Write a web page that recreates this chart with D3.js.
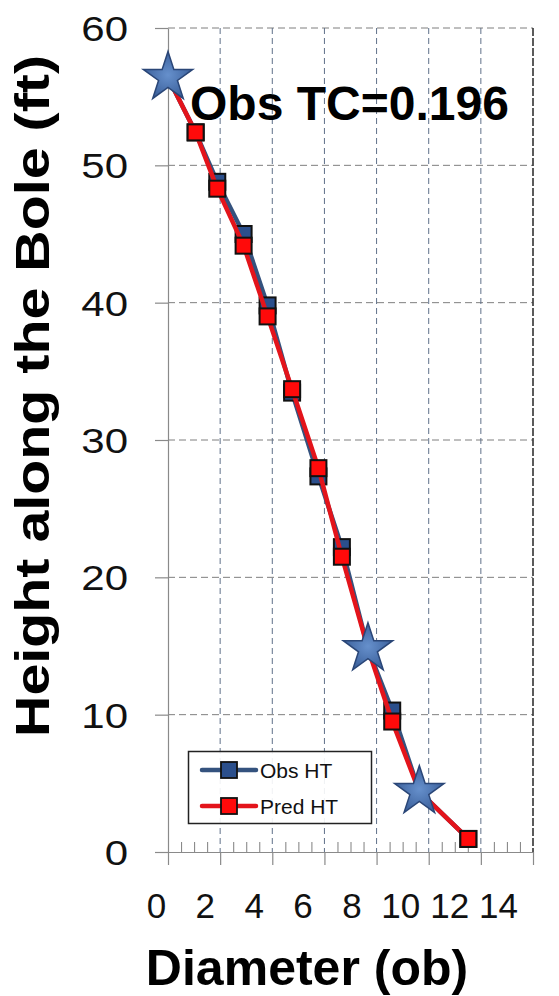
<!DOCTYPE html>
<html>
<head>
<meta charset="utf-8">
<script src="https://cdn.jsdelivr.net/npm/d3@7"></script>
<style>
  html, body { margin: 0; padding: 0; background: #ffffff; }
  svg { display: block; font-family: "Liberation Sans", Arial, sans-serif; }
</style>
</head>
<body>
<svg id="chart" width="559" height="996"></svg>
<script>
// Stem profile: diameter (outside bark) against height along the bole
const diameters   = [0, 1.06, 1.89, 2.90, 3.82, 4.76, 5.77, 6.67, 7.67, 8.60, 9.64, 11.52];
const obsHeights  = [56.4, 52.4, 48.8, 45.0, 39.8, 33.45, 27.35, 22.2, 14.8, 10.3, 4.4, 0.95];
const predHeights = [56.4, 52.4, 48.3, 44.15, 39.0, 33.7, 27.95, 21.5, 14.8, 9.5, 4.4, 0.95];

// Measured reference points, marked with stars
const starDiameters = [0, 7.67, 9.64];
const starHeights   = [56.4, 14.8, 4.4];

const xTicks = [0, 2, 4, 6, 8, 10, 12, 14];
const yTicks = [0, 10, 20, 30, 40, 50, 60];
const seriesNames = ["Obs HT", "Pred HT"];
const titleText = "Obs TC=0.196";
const xTitle = "Diameter (ob)";
const yTitle = "Height along the Bole (ft)";

const svg = d3.select("#chart");

const plotLeft = 168, plotRight = 533, plotTop = 28, plotBottom = 852;
const x = d3.scaleLinear().domain([0, 14]).range([plotLeft, plotRight]);
const y = d3.scaleLinear().domain([0, 60]).range([plotBottom, plotTop]);
// tick labels sit on a slightly tighter spacing than the grid
const xLabel = d3.scaleLinear().domain([0, 14]).range([156, 498]);

// star gradient
const defs = svg.append("defs");
const grad = defs.append("radialGradient").attr("id", "starFill")
  .attr("cx", "50%").attr("cy", "50%").attr("r", "50%");
grad.append("stop").attr("offset", "0%").attr("stop-color", "#6690cc");
grad.append("stop").attr("offset", "100%").attr("stop-color", "#3c619c");

// horizontal grid
svg.append("g").selectAll("line").data(yTicks.filter(d => d > 0)).join("line")
  .attr("x1", plotLeft).attr("x2", plotRight)
  .attr("y1", d => y(d)).attr("y2", d => y(d))
  .attr("stroke", "#7f7f7f").attr("stroke-width", 1)
  .attr("stroke-dasharray", "7,4");

// vertical grid
svg.append("g").selectAll("line").data(xTicks.filter(d => d > 0 && d < 14)).join("line")
  .attr("x1", d => x(d)).attr("x2", d => x(d))
  .attr("y1", plotTop).attr("y2", plotBottom)
  .attr("stroke", "#5f7089").attr("stroke-width", 1)
  .attr("stroke-dasharray", "6,4");

// right frame edge
svg.append("line")
  .attr("x1", x(14)).attr("x2", x(14)).attr("y1", plotTop).attr("y2", plotBottom)
  .attr("stroke", "#333").attr("stroke-width", 1.6).attr("stroke-dasharray", "8,2");

// y axis
const yAxis = svg.append("g").attr("transform", `translate(${plotLeft},0)`)
  .call(d3.axisLeft(y).tickValues(yTicks).tickSize(13).tickSizeOuter(0).tickFormat(d3.format("d")));
yAxis.select(".domain").attr("stroke", "#8a8a8a").attr("stroke-width", 1.2);
yAxis.selectAll(".tick line").attr("stroke", "#8a8a8a").attr("stroke-width", 1.2);
yAxis.selectAll(".tick text")
  .attr("x", 0).attr("dy", "0.36em")
  .attr("transform", "translate(-40,0) scale(1.2,1)")
  .attr("font-size", 35).attr("fill", "#111").attr("text-anchor", "end")
  .attr("font-family", "Liberation Sans, Arial, sans-serif");

// x axis: line, minor ticks up, major ticks down
const xAxis = svg.append("g").attr("transform", `translate(0,${plotBottom})`)
  .call(d3.axisBottom(x).tickValues(xTicks).tickSize(13).tickSizeOuter(0).tickFormat(""));
xAxis.select(".domain").attr("stroke", "#8a8a8a").attr("stroke-width", 1.2);
xAxis.selectAll(".tick line").attr("stroke", "#8a8a8a").attr("stroke-width", 1.2);

const minorTicks = d3.range(0.5, 14, 0.5).filter(d => d % 2 !== 0);
const xMinor = svg.append("g").attr("transform", `translate(0,${plotBottom})`)
  .call(d3.axisTop(x).tickValues(minorTicks).tickSize(10).tickSizeOuter(0).tickFormat(""));
xMinor.select(".domain").remove();
xMinor.selectAll(".tick line").attr("stroke", "#8a8a8a").attr("stroke-width", 1.1);

// x tick labels
const xLab = svg.append("g").attr("transform", `translate(0,${918})`)
  .call(d3.axisBottom(xLabel).tickValues(xTicks).tickSize(0).tickFormat(d3.format("d")));
xLab.select(".domain").remove();
xLab.selectAll(".tick text").attr("y", 0).attr("dy", 0)
  .attr("font-size", 35).attr("fill", "#111")
  .attr("font-family", "Liberation Sans, Arial, sans-serif");

// series
const obs = diameters.map((d, i) => ({ x: d, y: obsHeights[i] }));
const pred = diameters.map((d, i) => ({ x: d, y: predHeights[i] }));
const isStar = p => starDiameters.some((sd, j) => sd === p.x && starHeights[j] === p.y);

const line = d3.line().x(d => x(d.x)).y(d => y(d.y));
const sq = 16;

function drawSeries(data, lineColor, fillColor) {
  svg.append("path").datum(data).attr("d", line)
    .attr("fill", "none").attr("stroke", lineColor).attr("stroke-width", 4.5)
    .attr("stroke-linejoin", "round");
  svg.append("g").selectAll("rect").data(data.filter(p => !isStar(p))).join("rect")
    .attr("x", d => x(d.x) - sq / 2).attr("y", d => y(d.y) - sq / 2)
    .attr("width", sq).attr("height", sq)
    .attr("fill", fillColor).attr("stroke", "#111").attr("stroke-width", 2);
}
drawSeries(obs, "#34527e", "#2b4f8c");
drawSeries(pred, "#e3141b", "#ff0a0a");

// stars
const stars = starDiameters.map((d, i) => ({ x: d, y: starHeights[i] }));
const starSym = d3.symbol().type(d3.symbolStar).size(26 * 26 / 0.8908130915);
svg.append("g").selectAll("path").data(stars).join("path")
  .attr("transform", d => `translate(${x(d.x)},${y(d.y)})`)
  .attr("d", starSym)
  .attr("fill", "url(#starFill)").attr("stroke", "#2a4677").attr("stroke-width", 1.5)
  .attr("stroke-linejoin", "miter");

// annotation
svg.append("text").attr("x", 190).attr("y", 120)
  .attr("font-size", 48).attr("font-weight", "bold").attr("fill", "#000")
  .text(titleText);

// legend
const lg = svg.append("g");
lg.append("rect").attr("x", 188.5).attr("y", 751.5).attr("width", 183).attr("height", 72)
  .attr("fill", "#fff").attr("fill-opacity", 0.9).attr("stroke", "#222").attr("stroke-width", 1.5);
const legendItems = [
  { name: seriesNames[0], line: "#34527e", fill: "#2b4f8c", cy: 770 },
  { name: seriesNames[1], line: "#e3141b", fill: "#ff0a0a", cy: 806 }
];
legendItems.forEach(it => {
  lg.append("line").attr("x1", 202).attr("x2", 256).attr("y1", it.cy).attr("y2", it.cy)
    .attr("stroke", it.line).attr("stroke-width", 4.5).attr("stroke-linecap", "round");
  lg.append("rect").attr("x", 229 - 8).attr("y", it.cy - 8).attr("width", 16).attr("height", 16)
    .attr("fill", it.fill).attr("stroke", "#111").attr("stroke-width", 1.8);
  lg.append("text").attr("x", 260).attr("y", it.cy + 8)
    .attr("font-size", 21).attr("fill", "#111").text(it.name);
});

// axis titles
svg.append("text").attr("x", 307).attr("y", 985).attr("text-anchor", "middle")
  .attr("font-size", 50).attr("font-weight", "bold").attr("fill", "#000")
  .text(xTitle);

svg.append("text")
  .attr("transform", "translate(49,396) rotate(-90)")
  .attr("text-anchor", "middle")
  .attr("font-size", 48).attr("font-weight", "bold").attr("fill", "#000")
  .attr("textLength", 682).attr("lengthAdjust", "spacingAndGlyphs")
  .text(yTitle);
</script>
</body>
</html>
